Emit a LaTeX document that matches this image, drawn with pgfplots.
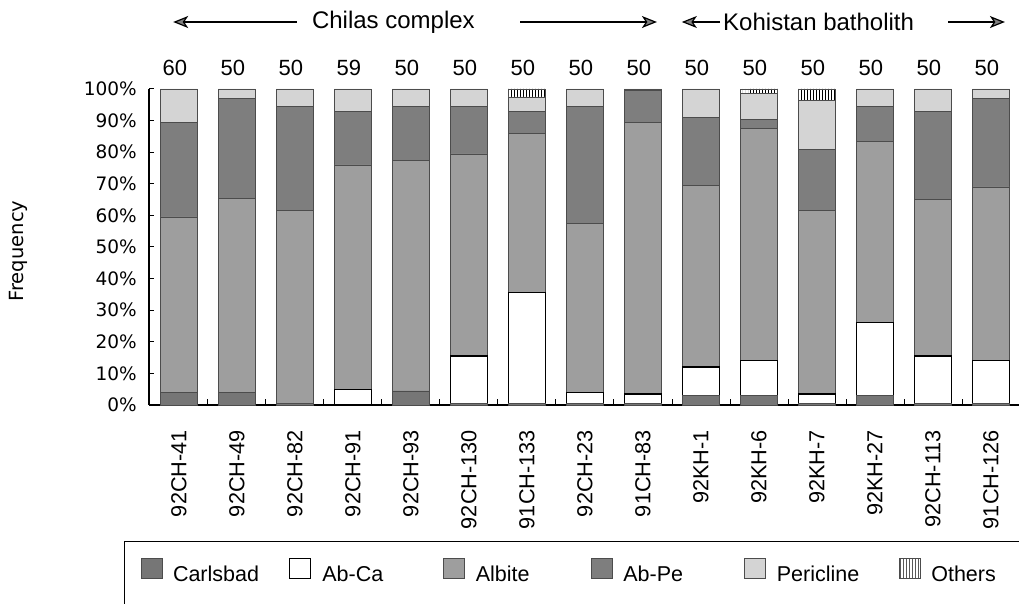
\documentclass[border=0pt]{standalone}
\usepackage{pgfplots}
\pgfplotsset{compat=1.18}
\usepackage{pgfplotstable}
\usepackage{fontspec}
\setmainfont{Liberation Sans}
\newfontfamily\dejavu{DejaVu Sans}
\usetikzlibrary{patterns,arrows.meta}

\definecolor{carls}{RGB}{118,118,118}
\definecolor{albite}{RGB}{158,158,158}
\definecolor{abpe}{RGB}{126,126,126}
\definecolor{peri}{RGB}{212,212,212}

% percentages per sample, bottom to top
\pgfplotstableread{
x  carl abca alb  abpe peri oth
0  4    0    55.5 30   10.5 0
1  4    0    61.5 31.5 3    0
2  0.5  0    61   33   5.5  0
3  0    5    71   17   7    0
4  4.5  0    73   17   5.5  0
5  0.5  15   64   15   5.5  0
6  0.5  35   50.5 7    4.5  2.5
7  0.5  3.5  53.5 37   5.5  0
8  0.5  3    86   10   0.5  0
9  3    9    57.5 21.5 9    0
10 3    11   73.5 3    8    1.5
11 0.5  3    58   19.5 15.5 3.5
12 3    23   57.5 11   5.5  0
13 0.5  15   49.5 28   7    0
14 0.5  13.5 55   28   3    0
}\data

\begin{document}
\begin{tikzpicture}
\begin{axis}[
  at={(149bp,199bp)}, anchor=south west,
  scale only axis, width=871bp, height=316bp,
  xmin=-0.517, xmax=14.5, ymin=0, ymax=100,
  axis lines=left, axis line style={-, line width=1.4bp},
  ybar stacked, bar width=0.638, clip=false,
  xtick={0,...,14},
  xticklabels={92CH-41,92CH-49,92CH-82,92CH-91,92CH-93,92CH-130,91CH-133,92CH-23,91CH-83,92KH-1,92KH-6,92KH-7,92KH-27,92CH-113,91CH-126},
  minor xtick={0.5,1.5,...,13.5},
  major x tick style={draw=none},
  ytick={0,10,...,100},
  yticklabels={0\%,10\%,20\%,30\%,40\%,50\%,60\%,70\%,80\%,90\%,100\%},
  tick align=inside,
  major tick length=5bp, minor tick length=6bp,
  every tick/.style={black, line width=1bp},
  xticklabel style={rotate=90, anchor=east, inner sep=0pt, font=\fontsize{21.7bp}{24bp}\selectfont},
  xticklabel shift=25bp,
  yticklabel style={anchor=east, inner sep=0pt, font=\dejavu\fontsize{18.5bp}{20bp}\selectfont},
  yticklabel shift=12bp,
  ylabel={Frequency},
  every axis y label/.style={at={(axis description cs:-0.1504,0.487)}, rotate=90, anchor=center, font=\dejavu\fontsize{19.5bp}{22bp}\selectfont},
  legend columns=6,
  legend image code/.code={\draw[#1] (0bp,3bp) rectangle (21bp,23bp);},
  legend style={at={(-0.0287,-0.4304)}, anchor=north west, draw=black, line width=1bp,
    inner xsep=16bp, inner ysep=16bp,
    font=\fontsize{21.5bp}{24bp}\selectfont,
    nodes={inner sep=0pt, text depth=30bp},
    cells={anchor=base west},
    /tikz/every odd column/.style={column sep=11bp},
    /tikz/every even column/.style={column sep=0bp}},
]
\addplot[fill=carls, draw=black!70, line width=0.5bp] table[x=x,y=carl]{\data};
\addlegendentry{\makebox[116bp][l]{Carlsbad}}
\addplot[fill=white, draw=black, line width=1.3bp] table[x=x,y=abca]{\data};
\addlegendentry{\makebox[121bp][l]{Ab-Ca}}
\addplot[fill=albite, draw=black!70, line width=0.5bp] table[x=x,y=alb]{\data};
\addlegendentry{\makebox[115bp][l]{Albite}}
\addplot[fill=abpe, draw=black!70, line width=0.5bp] table[x=x,y=abpe]{\data};
\addlegendentry{\makebox[121bp][l]{Ab-Pe}}
\addplot[fill=peri, draw=black!70, line width=0.5bp] table[x=x,y=peri]{\data};
\addlegendentry{\makebox[122bp][l]{Pericline}}
\addplot[pattern=vertical lines, draw=black!70, line width=0.5bp] table[x=x,y=oth]{\data};
\addlegendentry{\makebox[110bp][l]{Others}}

% sample sizes above the bars
\foreach \i/\n in {0/60,1/50,2/50,3/59,4/50,5/50,6/50,7/50,8/50,9/50,10/50,11/50,12/50,13/50,14/50}{
  \edef\tmp{\noexpand\node[font=\noexpand\fontsize{22bp}{24bp}\noexpand\selectfont] at (axis cs:\i-0.07,106.6) {\n};}
  \tmp
}
% group headers
\draw[line width=1.2bp, -{Stealth[length=15bp,width=12bp,inset=4bp,fill=gray]}] (axis cs:2.03,121.2) -- (axis cs:-0.10,121.2);
\node[anchor=west, inner sep=0pt, font=\fontsize{24bp}{26bp}\selectfont] at (axis cs:2.29,121.2) {Chilas complex};
\draw[line width=1.2bp, -{Stealth[length=15bp,width=12bp,inset=4bp,fill=gray]}] (axis cs:5.88,121.2) -- (axis cs:8.24,121.2);
\draw[line width=1.2bp, -{Stealth[length=15bp,width=12bp,inset=4bp,fill=gray]}] (axis cs:9.33,121.2) -- (axis cs:8.67,121.2);
\node[anchor=west, inner sep=0pt, font=\fontsize{24bp}{26bp}\selectfont] at (axis cs:9.38,121.2) {Kohistan batholith};
\draw[line width=1.2bp, -{Stealth[length=15bp,width=12bp,inset=4bp,fill=gray]}] (axis cs:13.26,121.2) -- (axis cs:14.24,121.2);
\end{axis}
\pgfresetboundingbox
\useasboundingbox (0,0) rectangle (1019bp,604bp);
\end{tikzpicture}
\end{document}
